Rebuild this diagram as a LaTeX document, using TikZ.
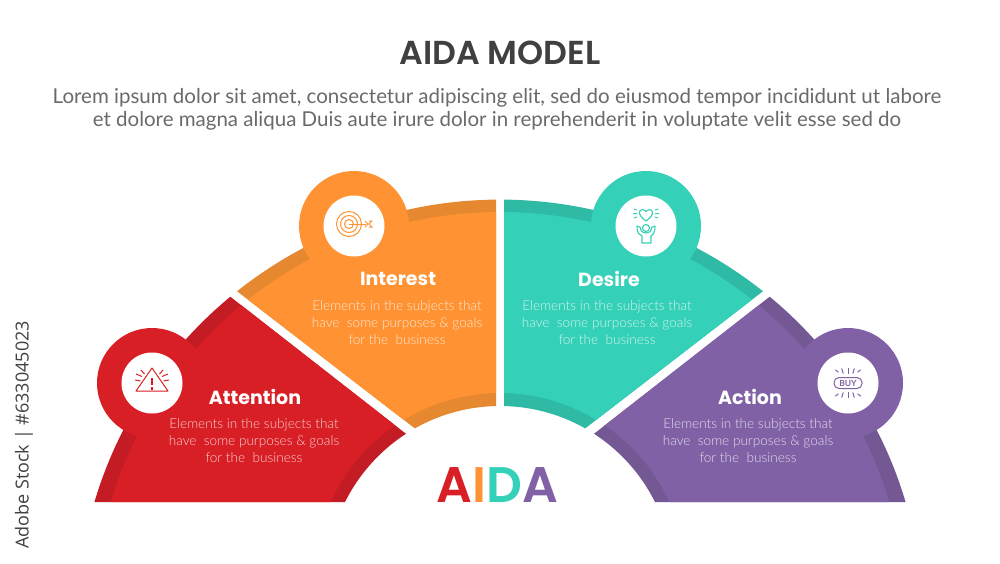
\documentclass[tikz,border=0pt]{standalone}
\usepackage{fontspec}
\usepackage{tikz}
\setmainfont{Lato}
\newfontfamily\headfont{Poppins}
\newfontfamily\titlefont{Poppins SemiBold}
\newfontfamily\leadfont{Lato}
\newfontfamily\bodyfont{Lato Light}
\newfontfamily\sidefont{Open Sans}
\definecolor{redfill}{HTML}{D91F26}
\definecolor{reddark}{HTML}{C41C24}
\definecolor{orgfill}{HTML}{FF9334}
\definecolor{orgdark}{HTML}{E58830}
\definecolor{tealfill}{HTML}{34D0B8}
\definecolor{tealdark}{HTML}{2FBAA5}
\definecolor{purpfill}{HTML}{8061A5}
\definecolor{purpdark}{HTML}{735893}
\definecolor{headgray}{HTML}{404040}
\definecolor{leadgray}{HTML}{6A6A6A}
\tikzset{
  bubble/.style={circle, fill=#1, minimum size=110pt, inner sep=0pt},
  disc/.style={circle, fill=white, minimum size=61pt, inner sep=0pt},
  heading/.style={text=white, font=\headfont\bfseries\fontsize{19}{21}\selectfont},
  body/.style={align=center, text=white, text opacity=.78, font=\bodyfont\fontsize{13.6}{17}\selectfont},
  warnicon/.pic={
    \draw[redfill, line width=1pt, line join=round] (0,-15) -- (16,8) -- (-16,8) -- cycle;
    \draw[redfill, line width=1.6pt] (0,-5) -- (0,2) (0,4) -- (0,6.5);
    \foreach \s in {-1,1} {
      \draw[redfill, line width=1pt] (\s*16,-9) -- (\s*10,-6.5) (\s*11,-13) -- (\s*7.5,-9) (\s*17,-3) -- (\s*11.5,-2);
    }
  },
  targeticon/.pic={
    \draw[orgfill, line width=1pt] (-5,-2) circle (12.5pt) (-5,-2) circle (8.5pt) (-5,-2) circle (4.5pt);
    \draw[orgfill, line width=1pt] (-5,-2) -- (12,-2);
    \draw[orgfill, line width=1pt] (11,-5) -- (14,-2) -- (11,1) (15,-5) -- (18,-5) -- (15,-2) -- (18,1) -- (15,1);
  },
  hearticon/.pic={
    \draw[tealfill, line width=1.1pt, line join=round] (0,-5) .. controls (-4,-8) and (-7,-11) .. (-6.5,-14) .. controls (-6,-17) and (-2,-17) .. (0,-14.5) .. controls (2,-17) and (6,-17) .. (6.5,-14) .. controls (7,-11) and (4,-8) .. (0,-5) -- cycle;
    \draw[tealfill, line width=1.1pt] (0,2) circle (3.5pt);
    \draw[tealfill, line width=1.1pt, line join=round] (-9,0) .. controls (-9,7) and (-7,9) .. (-4,10) -- (-4,17) -- (5,17) -- (5,10) .. controls (7,9) and (9,7) .. (9,0) -- (6,1) .. controls (5,6) and (3,7) .. (0,7) .. controls (-3,7) and (-5,6) .. (-6,1) -- cycle;
    \foreach \s in {-1,1} {
      \draw[tealfill, line width=1pt] (\s*9,-16) -- (\s*12,-17) (\s*9,-12.5) -- (\s*13,-12.5) (\s*9,-9) -- (\s*12,-8);
    }
  },
  buyicon/.pic={
    \node[draw=purpfill, line width=1pt, rounded corners=5pt, minimum width=28pt, minimum height=11pt, inner sep=0pt, text=purpfill, font=\leadfont\bfseries\fontsize{8.5}{8.5}\selectfont] (buytag) at (0,0) {BUY};
    \foreach \a in {-30,-15,0,15,30} {
      \draw[purpfill, line width=1pt] (\a*.32,-9-\a*\a*.002) -- (\a*.42,-15+\a*\a*.002);
      \draw[purpfill, line width=1pt] (\a*.32,9+\a*\a*.002) -- (\a*.42,15-\a*\a*.002);
    }
  }
}

\begin{document}
\begin{tikzpicture}[x=1pt, y=-1pt]
    \path[use as bounding box, fill=white] (0,0) rectangle (1000,563);

    % outer and inner arcs of the fan
    \coordinate (outc) at (500,622.6);
    \coordinate (lightc) at (500,618);
    \coordinate (innc) at (500,579);

    % the four sectors, each clipped to its wedge
    \foreach \wedge/\fillc/\darkc in {
        {(431,453.3) -- (131,219.2) -- (0,219) -- (0,502) -- (431,502)}/redfill/reddark,
        {(496,491) -- (496,100) -- (100,100) -- (100,185.5)}/orgfill/orgdark,
        {(504,491) -- (504,100) -- (900,100) -- (900,185.5)}/tealfill/tealdark,
        {(569,453.3) -- (869,219.2) -- (1000,219) -- (1000,502) -- (569,502)}/purpfill/purpdark} {
      \begin{scope}
        \clip \wedge -- cycle;
        \fill[\darkc, even odd rule] (outc) circle (423pt) (innc) circle (173pt);
        \fill[\fillc, even odd rule] (lightc) circle (406pt) (innc) circle (186pt);
      \end{scope}
    }

    \node[bubble=redfill] (attn) at (152,383) {};
    \node[bubble=orgfill] (intr) at (354,226) {};
    \node[bubble=tealfill] (desr) at (646,226) {};
    \node[bubble=purpfill] (actn) at (848,383) {};
    \node[disc] (attnd) at (attn) {};
    \node[disc] (intrd) at (intr) {};
    \node[disc] (desrd) at (desr) {};
    \node[disc] (actnd) at (actn) {};

    \pic at (attnd) {warnicon};
    \pic at (intrd) {targeticon};
    \pic at (desrd) {hearticon};
    \pic at (actnd) {buyicon};

    % titles
    \node[text=headgray, font=\titlefont\fontsize{33.2}{36}\selectfont] (title) at (500,53) {AIDA MODEL};
    \node[text=leadgray, font=\leadfont\fontsize{20.5}{23}\selectfont, align=center] (lead) at (497,109) {Lorem ipsum dolor sit amet, consectetur adipiscing elit, sed do eiusmod tempor incididunt ut labore\\et dolore magna aliqua Duis aute irure dolor in reprehenderit in voluptate velit esse sed do};

    % sector texts
    \node[heading] (attnh) at (255,397) {Attention};
    \node[heading] (intrh) at (398,279) {Interest};
    \node[heading] (desrh) at (609,279) {Desire};
    \node[heading] (actnh) at (750,397) {Action};
    \foreach \nm/\px/\py in {attnb/254/441, intrb/397/323, desrb/607/323, actnb/748/441} {
      \node[body] (\nm) at (\px,\py) {Elements in the subjects that\\have\ \ some purposes \& goals\\for the\ \ business};
    }

    \node[font=\titlefont\fontsize{50}{52}\selectfont] (word) at (497.5,485.5) {\textcolor{redfill}{A}\textcolor{orgfill}{I}\textcolor{tealfill}{D}\textcolor{purpfill}{A}};

    \node[rotate=90, text=headgray, font=\sidefont\fontsize{18}{20}\selectfont] (stock) at (24,435) {Adobe Stock | \#633045023};
\end{tikzpicture}
\end{document}
